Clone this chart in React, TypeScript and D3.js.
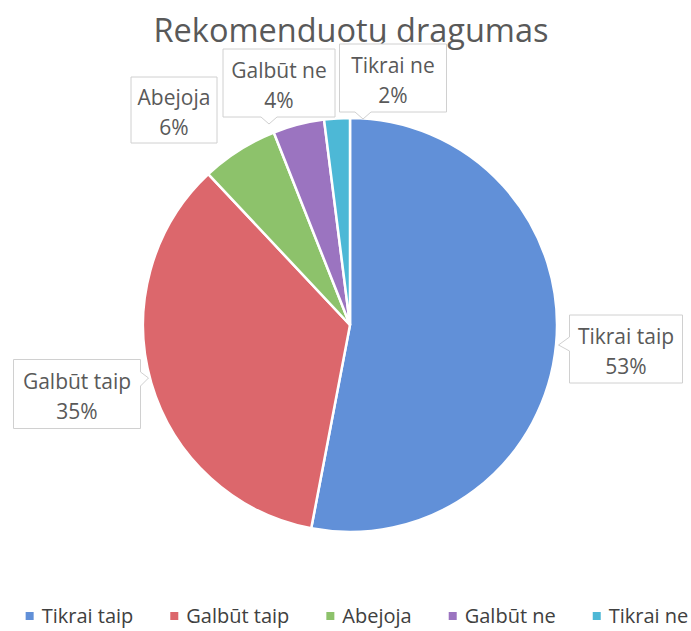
import React, { useEffect, useRef } from "react";
import * as d3 from "d3";

const title = "Rekomenduotų dragumas";
const categories = ["Tikrai taip", "Galbūt taip", "Abejoja", "Galbūt ne", "Tikrai ne"];
const values = [53, 35, 6, 4, 2];
const colors = ["#6190d8", "#dc676c", "#8dc26b", "#9b74c0", "#4db8d6"];

// label box layout (centre of box, box size, pointer side)
const labelLayout = [
  { cx: 626, cy: 349, w: 113, h: 68, ptr: "left" },
  { cx: 77, cy: 394, w: 127, h: 69, ptr: "right" },
  { cx: 174, cy: 110, w: 86, h: 66, ptr: "none" },
  { cx: 279, cy: 83, w: 112, h: 68, ptr: "bottom" },
  { cx: 393, cy: 78, w: 107, h: 68, ptr: "bottom" },
];

const W = 691;
const H = 631;

export default function App() {
  const ref = useRef<SVGSVGElement>(null);

  useEffect(() => {
    const svg = d3.select(ref.current);
    svg.selectAll("*").remove();

    const font = "'Open Sans', sans-serif";
    const cx = 350;
    const cy = 325;
    const r = 207;

    svg
      .append("rect")
      .attr("width", W)
      .attr("height", H)
      .attr("fill", "#fff");

    svg
      .append("text")
      .attr("x", 351)
      .attr("y", 42)
      .attr("text-anchor", "middle")
      .style("font-family", font)
      .style("font-size", "32.5px")
      .style("fill", "#595959")
      .text(title);

    const pie = d3
      .pie<number>()
      .sort(null)
      .value((d) => d);
    const arcs = pie(values);
    const arc = d3.arc<d3.PieArcDatum<number>>().innerRadius(0).outerRadius(r);

    const g = svg.append("g").attr("transform", `translate(${cx},${cy})`);
    g.selectAll("path")
      .data(arcs)
      .join("path")
      .attr("d", arc)
      .attr("fill", (d, i) => colors[i])
      .attr("stroke", "#fff")
      .attr("stroke-width", 2.5);

    // data labels
    const lg = svg.append("g");
    labelLayout.forEach((b, i) => {
      const x0 = b.cx - b.w / 2;
      const y0 = b.cy - b.h / 2;
      const x1 = b.cx + b.w / 2;
      const y1 = b.cy + b.h / 2;
      let d = "";
      if (b.ptr === "left") {
        d = `M${x0},${y0} H${x1} V${y1} H${x0} V${b.cy + 2} L${x0 - 11},${b.cy - 4} L${x0},${b.cy - 12} Z`;
      } else if (b.ptr === "right") {
        d = `M${x0},${y0} H${x1} V${b.cy - 22} L${x1 + 8},${b.cy - 16} L${x1},${b.cy - 8} V${y1} H${x0} Z`;
      } else if (b.ptr === "bottom") {
        const px = i === 3 ? b.cx - 10 : b.cx - 30;
        d = `M${x0},${y0} H${x1} V${y1} H${px + 8} L${px},${y1 + 7} L${px - 8},${y1} H${x0} Z`;
      } else {
        d = `M${x0},${y0} H${x1} V${y1} H${x0} Z`;
      }
      lg.append("path")
        .attr("d", d)
        .attr("fill", "#fff")
        .attr("stroke", "#d0d0d0")
        .attr("stroke-width", 1);
      const t = lg
        .append("text")
        .attr("text-anchor", "middle")
        .style("font-family", font)
        .style("font-size", "21px")
        .style("fill", "#595959");
      t.append("tspan").attr("x", b.cx).attr("y", b.cy - 5).text(categories[i]);
      t.append("tspan")
        .attr("x", b.cx)
        .attr("y", b.cy + 25)
        .text(`${values[i]}%`);
    });

    // legend
    const leg = svg.append("g");
    const items = leg
      .selectAll("g")
      .data(categories)
      .join("g");
    items
      .append("rect")
      .attr("width", 8)
      .attr("height", 8)
      .attr("y", -11)
      .attr("fill", (d, i) => colors[i]);
    items
      .append("text")
      .attr("x", 16)
      .style("font-family", font)
      .style("font-size", "20px")
      .style("fill", "#404040")
      .text((d) => d);
    let x = 0;
    const gap = 37;
    const positions: number[] = [];
    items.each(function () {
      const tw = (d3.select(this).select("text").node() as SVGTextElement).getComputedTextLength();
      positions.push(x);
      x += 16 + tw + gap;
    });
    const total = x - gap;
    const start = 357 - total / 2;
    items.attr("transform", (d, i) => `translate(${start + positions[i]},623)`);
  }, []);

  return (
    <svg
      ref={ref}
      width={W}
      height={H}
      style={{ display: "block", position: "absolute", left: 0, top: 0 }}
    />
  );
}
